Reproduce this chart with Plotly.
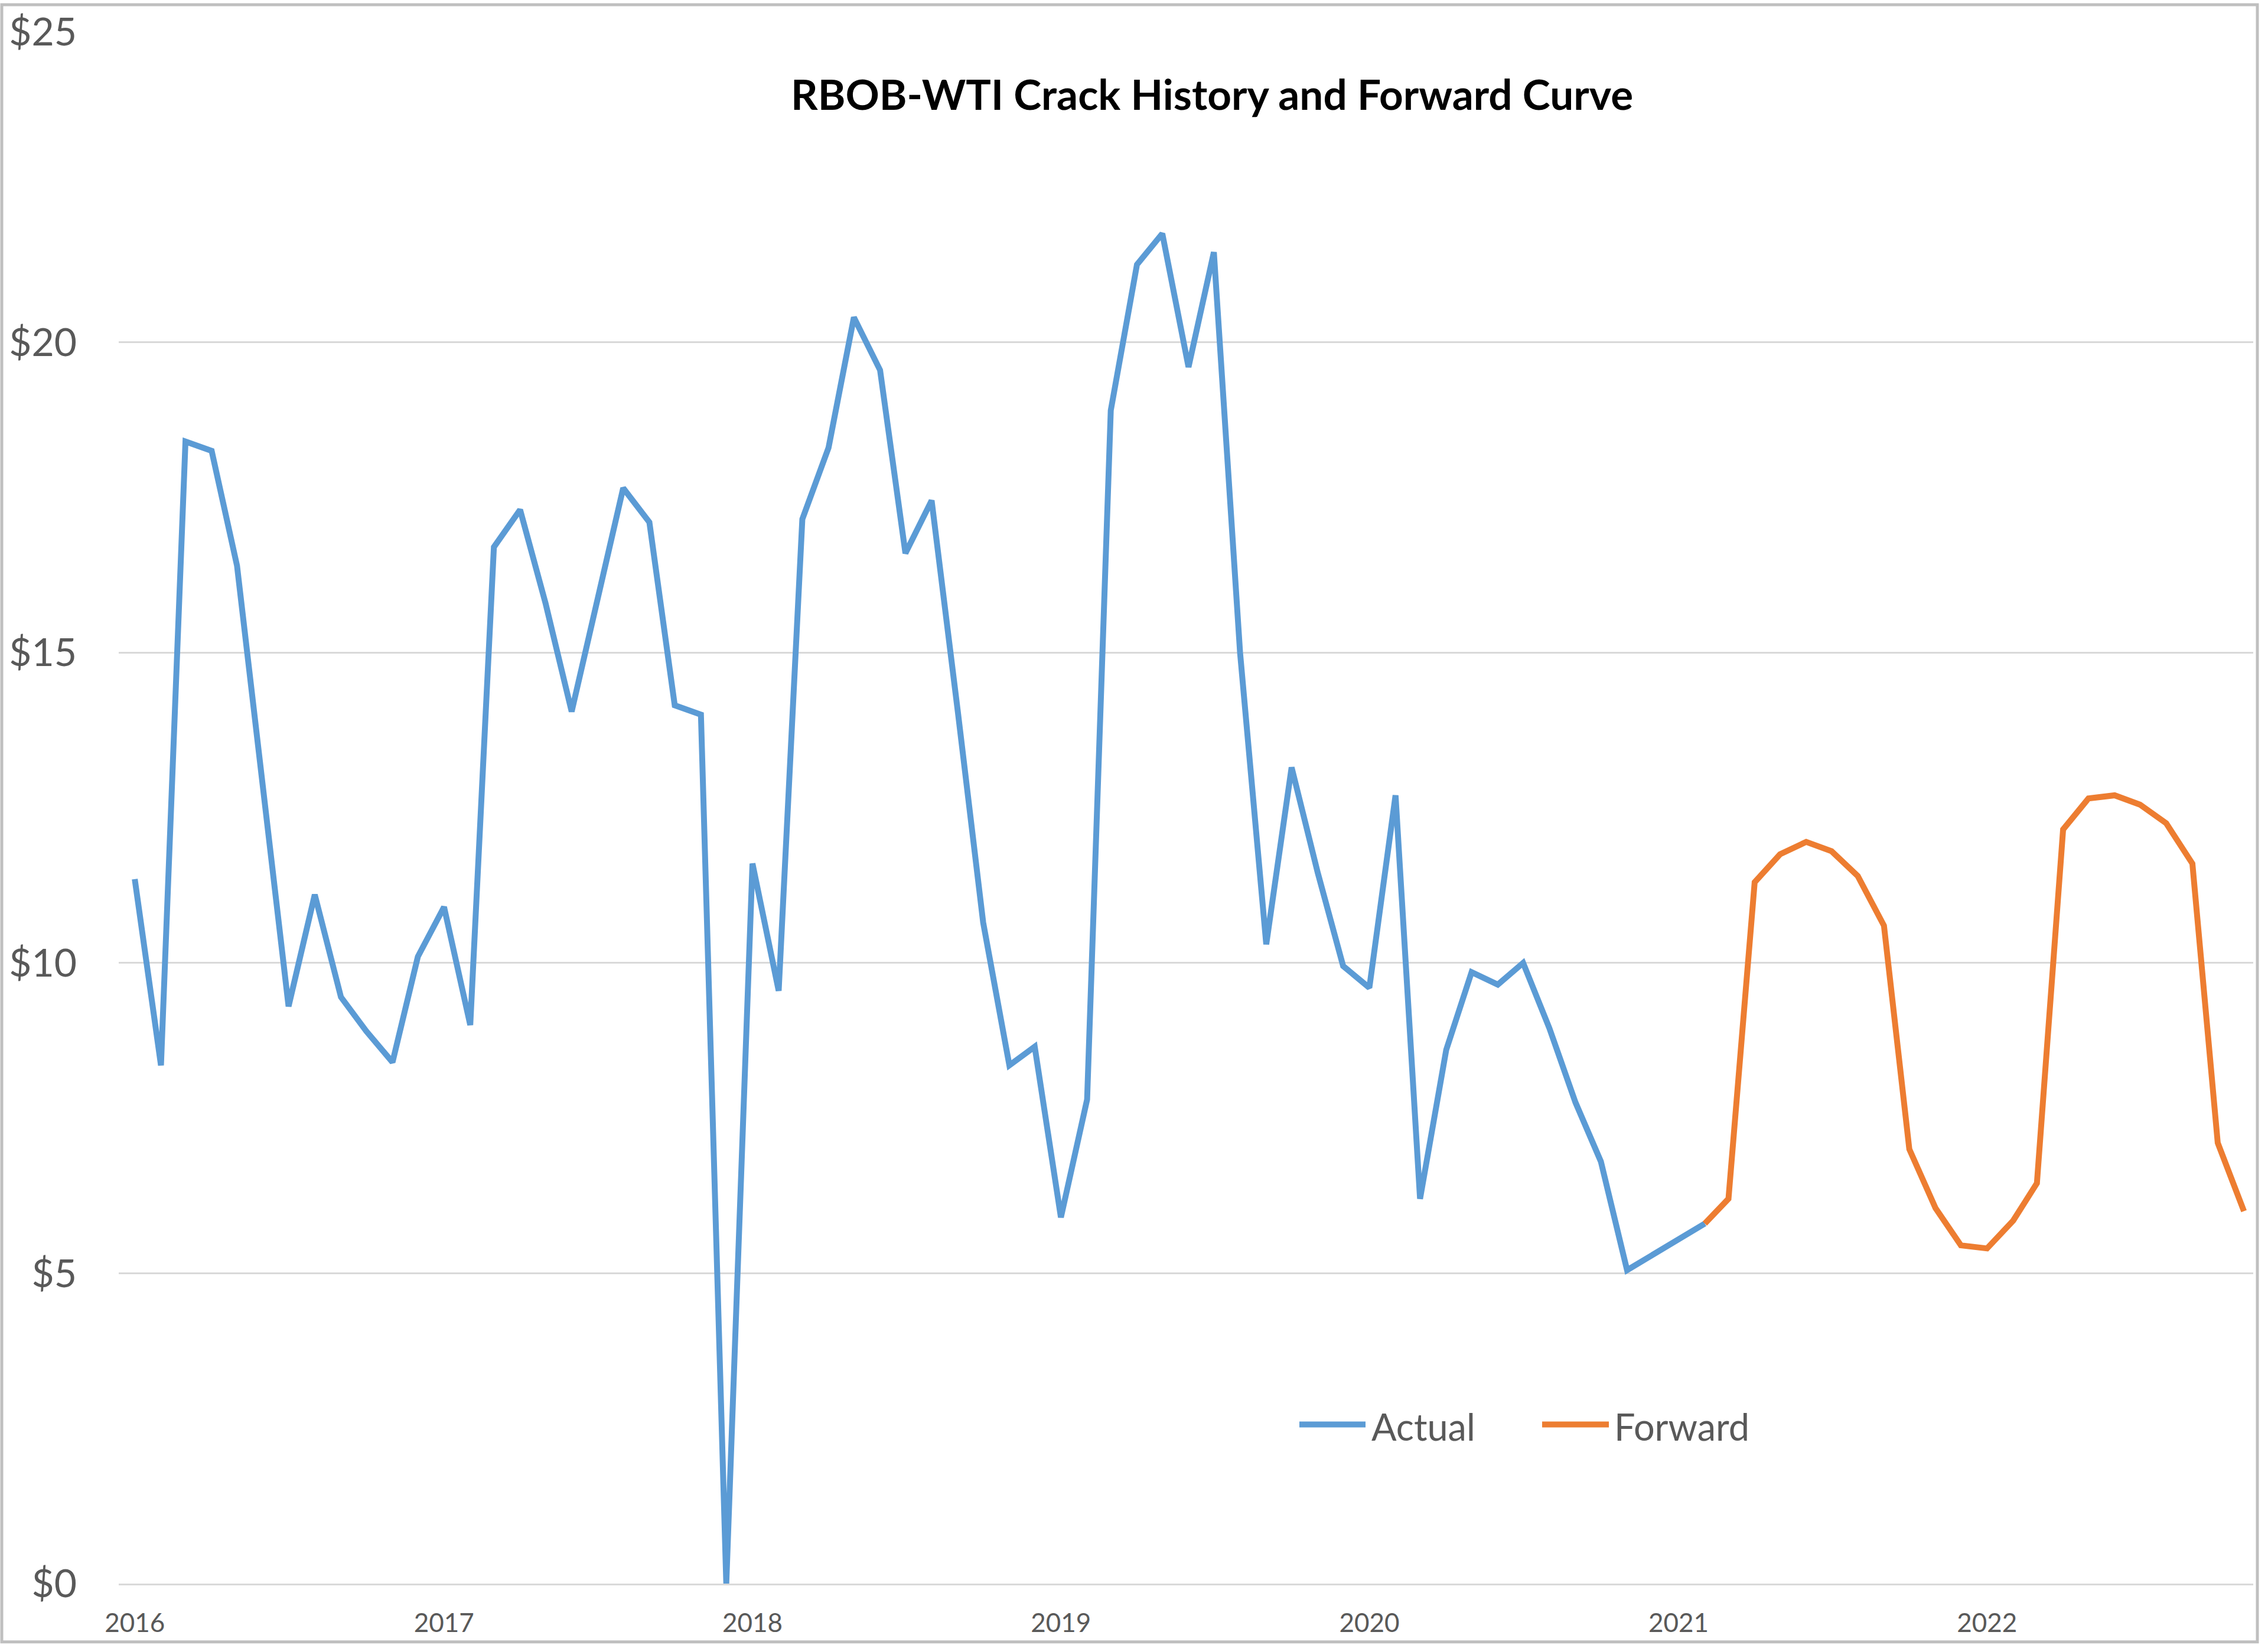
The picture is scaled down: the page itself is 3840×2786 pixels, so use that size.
import pandas as pd
import plotly.graph_objects as go

# ---- data ----
actual_start = "2016-01-01"
actual_values = [
    11.35, 8.35, 18.4, 18.25, 16.4, 12.8, 9.3, 11.1, 9.45, 8.9, 8.4, 10.1,      # 2016
    10.9, 9.0, 16.7, 17.3, 15.8, 14.05, 15.85, 17.65, 17.1, 14.15, 14.0, 0.0,  # 2017
    11.6, 9.55, 17.15, 18.3, 20.4, 19.55, 16.6, 17.45, 14.05, 10.65, 8.35, 8.65,  # 2018
    5.9, 7.8, 18.9, 21.25, 21.75, 19.6, 21.45, 15.0, 10.3, 13.15, 11.45, 9.95,  # 2019
    9.6, 12.7, 6.2, 8.6, 9.85, 9.65, 10.0, 8.95, 7.75, 6.8, 5.05, 5.3,         # 2020
    5.55, 5.8,                                                                  # 2021
]
forward_start = "2021-02-01"
forward_values = [
    5.8, 6.2, 11.3, 11.75, 11.95, 11.8, 11.4, 10.6, 7.0, 6.05, 5.45,           # 2021
    5.4, 5.85, 6.45, 12.15, 12.65, 12.7, 12.55, 12.25, 11.6, 7.1, 6.0,         # 2022
]
series_names = ["Actual", "Forward"]
title_text = "RBOB-WTI Crack History and Forward Curve"
year_ticks = ["2016", "2017", "2018", "2019", "2020", "2021", "2022"]

actual_dates = pd.date_range(actual_start, periods=len(actual_values), freq="MS")
forward_dates = pd.date_range(forward_start, periods=len(forward_values), freq="MS")

BLUE = "#5B9BD5"
ORANGE = "#ED7D31"
GRID = "#D9D9D9"
TXT = "#595959"
FONT = "Lato"
LW = 10

fig = go.Figure()
fig.add_trace(go.Scatter(x=actual_dates, y=actual_values, mode="lines", name=series_names[0],
                         line=dict(color=BLUE, width=LW), showlegend=False))
fig.add_trace(go.Scatter(x=forward_dates, y=forward_values, mode="lines", name=series_names[1],
                         line=dict(color=ORANGE, width=LW), showlegend=False))

W, H = 3840, 2786
L, R, T, B = 201, 25, 49, 104
pw, ph = W - L - R, H - T - B

def px(xp):
    return (xp - L) / pw

def py(yp):
    return (H - B - yp) / ph

fig.update_layout(
    width=W, height=H,
    margin=dict(l=L, r=R, t=T, b=B),
    paper_bgcolor="white", plot_bgcolor="white",
    font=dict(family=FONT, color=TXT),
)
fig.update_xaxes(
    type="date",
    range=["2015-12-13", "2022-11-12"],
    tickvals=[f"{y}-01-01" for y in year_ticks],
    ticktext=year_ticks,
    tickfont=dict(size=44, color=TXT, family=FONT),
    showgrid=False, zeroline=False,
    showline=True, linecolor=GRID, linewidth=3,
    ticks="", ticklabelstandoff=26,
)
fig.update_yaxes(
    range=[0, 25], dtick=5, tick0=0,
    tickprefix="$",
    tickfont=dict(size=66, color=TXT, family=FONT),
    showgrid=True, gridcolor=GRID, gridwidth=3,
    zeroline=False, showline=False,
    ticks="", ticklabelstandoff=70,
)

# title
fig.add_annotation(text=f"<b>{title_text}</b>", xref="paper", yref="paper",
                   x=px(2052), y=py(154), xanchor="center", yanchor="middle",
                   showarrow=False, font=dict(size=71, color="black", family=FONT))

# custom legend (long line samples as in the reference)
leg_y = py(2412)
for (x0, x1, tx), name, col in zip([(2200, 2312, 2320), (2611, 2724, 2731)], series_names, [BLUE, ORANGE]):
    fig.add_shape(type="line", xref="paper", yref="paper", x0=px(x0), x1=px(x1), y0=leg_y, y1=leg_y,
                  line=dict(color=col, width=LW))
    fig.add_annotation(text=name, xref="paper", yref="paper", x=px(tx), y=leg_y - 0.001,
                       xanchor="left", yanchor="middle", showarrow=False,
                       font=dict(size=63, color=TXT, family=FONT))

# chart border
fig.add_shape(type="rect", xref="paper", yref="paper",
              x0=px(3), x1=px(3822), y0=py(2781), y1=py(3),
              line=dict(color="#BFBFBF", width=5), fillcolor="rgba(0,0,0,0)", layer="below")

fig.write_html("out.html")
